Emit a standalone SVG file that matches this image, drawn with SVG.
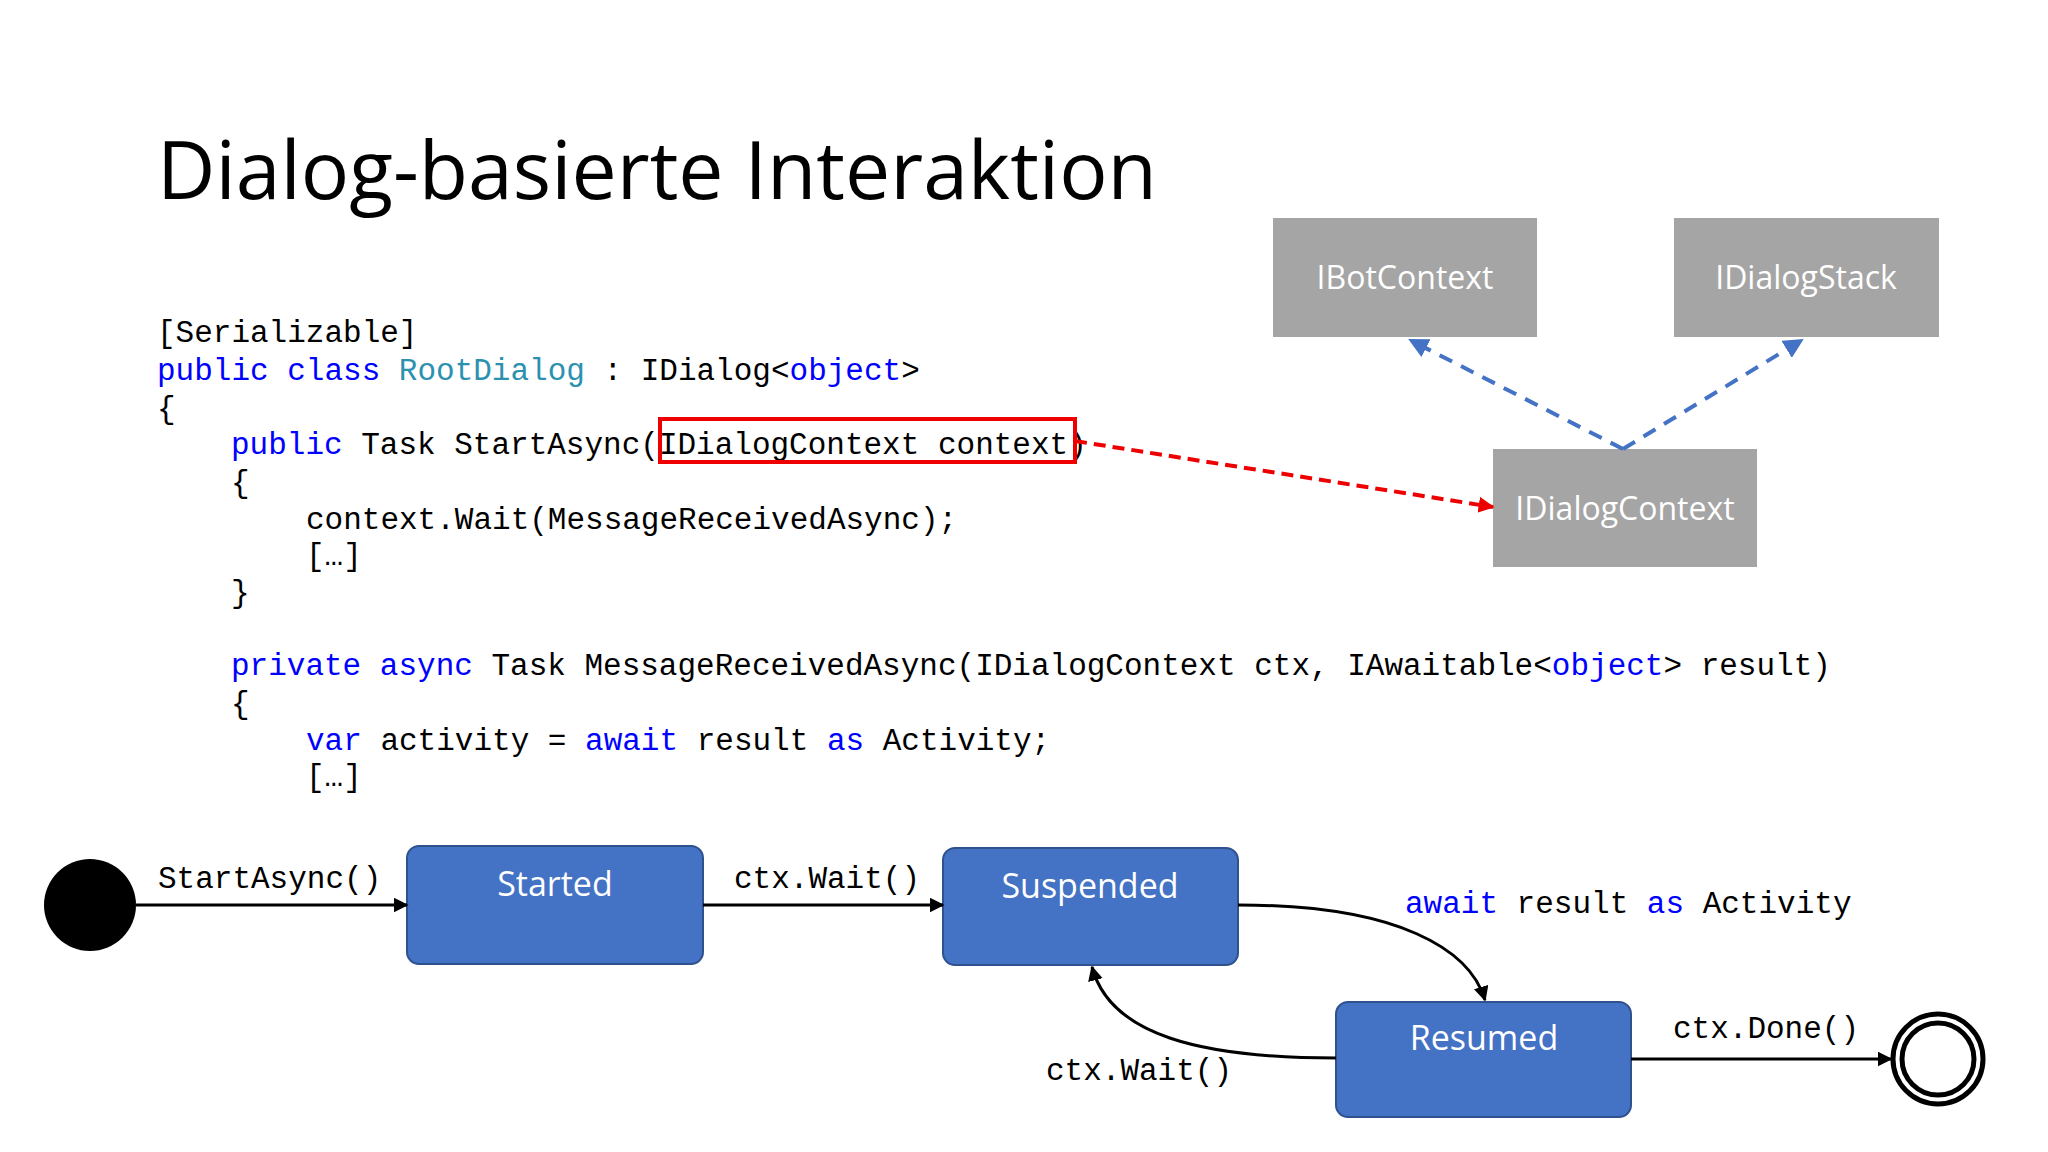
<svg xmlns="http://www.w3.org/2000/svg" width="2048" height="1152" viewBox="0 0 2048 1152">
<style>
.code{font-family:"Liberation Mono",monospace;font-size:31px;fill:#000}
.kw{fill:#0000ff}.ty{fill:#2b91af}
.gbox{fill:#a5a5a5}
.gt{font-family:"Open Sans","Noto Sans",sans-serif;font-size:32px;fill:#fff;text-anchor:middle}
.st{fill:#4472c4;stroke:#2f528f;stroke-width:2}
.stt{font-family:"Open Sans","Noto Sans",sans-serif;font-size:34px;fill:#fff;text-anchor:middle}
.ln{fill:none;stroke:#000;stroke-width:3}
</style>
<defs>
<marker id="ab" viewBox="0 0 10 10" refX="9" refY="5" markerWidth="5" markerHeight="5" orient="auto"><path d="M0,0L10,5L0,10z" fill="#000"/></marker>
<marker id="ablue" viewBox="0 0 10 10" refX="9" refY="5" markerWidth="5" markerHeight="5" orient="auto"><path d="M0,0L10,5L0,10z" fill="#4472c4"/></marker>
<marker id="ared" viewBox="0 0 10 10" refX="9" refY="5" markerWidth="4" markerHeight="4" orient="auto"><path d="M0,0L10,5L0,10z" fill="#e00"/></marker>
</defs>
<rect width="2048" height="1152" fill="#fff"/>
<text x="157" y="199" font-family="Open Sans,Noto Sans,sans-serif" font-size="81" fill="#000" textLength="1000" lengthAdjust="spacingAndGlyphs">Dialog-basierte Interaktion</text>
<g id="code">
<text class="code" x="157" y="342">[Serializable]</text>
<text class="code" x="157" y="380"><tspan class="kw">public class</tspan> <tspan class="ty">RootDialog</tspan> : IDialog&lt;<tspan class="kw">object</tspan>&gt;</text>
<text class="code" x="157" y="418">{</text>
<text class="code" x="231" y="454"><tspan class="kw">public</tspan> Task StartAsync(IDialogContext context)</text>
<text class="code" x="231" y="492">{</text>
<text class="code" x="306" y="529">context.Wait(MessageReceivedAsync);</text>
<text class="code" x="306" y="565">[…]</text>
<text class="code" x="231" y="602">}</text>
<text class="code" x="231" y="675"><tspan class="kw">private async</tspan> Task MessageReceivedAsync(IDialogContext ctx, IAwaitable&lt;<tspan class="kw">object</tspan>&gt; result)</text>
<text class="code" x="231" y="713">{</text>
<text class="code" x="306" y="750"><tspan class="kw">var</tspan> activity = <tspan class="kw">await</tspan> result <tspan class="kw">as</tspan> Activity;</text>
<text class="code" x="306" y="786">[…]</text>
<rect x="660" y="419" width="415" height="43" fill="none" stroke="#e00" stroke-width="4"/>
</g>
<g id="IBotContext"><rect class="gbox" x="1273" y="218" width="264" height="119"/><text class="gt" x="1405" y="289">IBotContext</text></g>
<g id="IDialogStack"><rect class="gbox" x="1674" y="218" width="265" height="119"/><text class="gt" x="1806" y="289">IDialogStack</text></g>
<g id="IDialogContext"><rect class="gbox" x="1493" y="449" width="264" height="118"/><text class="gt" x="1625" y="520">IDialogContext</text></g>
<g id="initial"><circle cx="90" cy="905" r="46" fill="#000"/></g>
<g id="Started"><rect class="st" x="407" y="846" width="296" height="118" rx="12"/><text class="stt" x="555" y="896">Started</text></g>
<g id="Suspended"><rect class="st" x="943" y="848" width="295" height="117" rx="12"/><text class="stt" x="1090" y="898">Suspended</text></g>
<g id="Resumed"><rect class="st" x="1336" y="1002" width="295" height="115" rx="12"/><text class="stt" x="1484" y="1050">Resumed</text></g>
<g id="final"><circle cx="1938" cy="1059" r="45" fill="#fff" stroke="#000" stroke-width="5"/><circle cx="1938" cy="1059" r="36" fill="#fff" stroke="#000" stroke-width="5"/></g>
<g id="connectors">
<path d="M1623,449L1410,340" stroke="#4472c4" stroke-width="4" stroke-dasharray="14,10" fill="none" marker-end="url(#ablue)"/>
<path d="M1623,449L1802,340" stroke="#4472c4" stroke-width="4" stroke-dasharray="14,10" fill="none" marker-end="url(#ablue)"/>
<path d="M1075,441L1493,507" stroke="#e00" stroke-width="4" stroke-dasharray="12,7" fill="none" marker-end="url(#ared)"/>
<path class="ln" d="M136,905L407,905" marker-end="url(#ab)"/>
<path class="ln" d="M703,905L943,905" marker-end="url(#ab)"/>
<path class="ln" d="M1238,905C1400,905 1470,950 1485,1000" marker-end="url(#ab)"/>
<path class="ln" d="M1336,1058C1200,1058 1110,1035 1092,967" marker-end="url(#ab)"/>
<path class="ln" d="M1631,1059L1891,1059" marker-end="url(#ab)"/>
<text class="code" x="158" y="888">StartAsync()</text>
<text class="code" x="734" y="888">ctx.Wait()</text>
<text class="code" x="1405" y="913"><tspan class="kw">await</tspan> result <tspan class="kw">as</tspan> Activity</text>
<text class="code" x="1673" y="1038">ctx.Done()</text>
<text class="code" x="1046" y="1080">ctx.Wait()</text>
</g>
</svg>
